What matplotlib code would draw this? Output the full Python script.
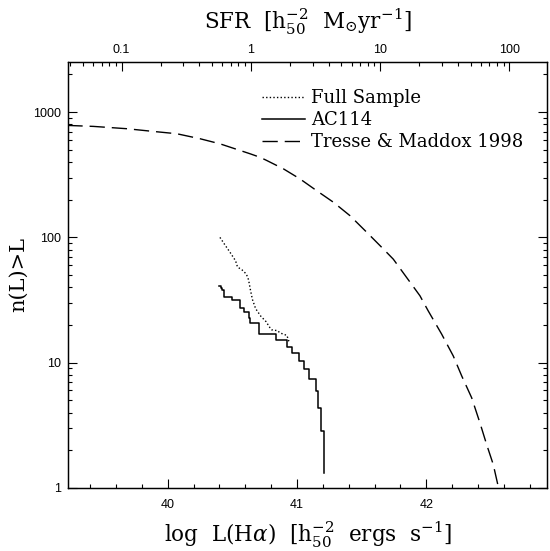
import numpy as np
import matplotlib.pyplot as plt
from matplotlib.ticker import MultipleLocator, LogLocator, FuncFormatter, NullFormatter

plt.rcParams['font.family'] = 'DejaVu Serif'
plt.rcParams['mathtext.fontset'] = 'dejavuserif'

# log L(Halpha) where SFR = 1 h50^-2 Msun/yr
sfr_zero = 40.6435

# Tresse & Maddox 1998 (cumulative)
tm_logL = [39.224, 39.425, 39.683, 39.889, 40.070, 40.250, 40.405, 40.560, 40.637,
           40.714, 40.766, 40.894, 41.023, 41.152, 41.281, 41.410, 41.539, 41.667,
           41.745, 41.951, 42.015, 42.119, 42.209, 42.274, 42.351, 42.415, 42.467,
           42.518, 42.562]
tm_n = [783, 769, 737, 701, 672, 613, 558, 494, 465, 436, 411, 353, 293, 236, 191,
        149, 110, 81, 67, 34.2, 25.9, 16.9, 11.3, 7.84, 5.25, 3.31, 2.22, 1.54, 0.97]

# full sample (dotted)
fs_logL = [40.404, 40.443, 40.482, 40.525, 40.540, 40.575, 40.608, 40.625, 40.640,
           40.655, 40.680, 40.720, 40.760, 40.791, 40.804, 40.850, 40.868, 40.894,
           40.922, 40.935, 40.950]
fs_n = [100, 87, 76, 65, 58, 55, 51, 46, 38, 32, 27, 23.5, 21.3, 19, 18.3, 18, 17.3,
        16.9, 16.5, 15, 14.5]

# AC114 (solid steps)
ac_logL = [40.397, 40.410, 40.422, 40.432, 40.436, 40.500, 40.559, 40.590, 40.625,
           40.640, 40.708, 40.838, 40.920, 40.959, 41.015, 41.056, 41.095, 41.145,
           41.165, 41.186, 41.211]
ac_n = [41.0, 39.8, 38.2, 37.0, 33.6, 31.7, 27.2, 25.3, 22.9, 20.9, 16.9, 15.1, 13.4,
        11.9, 10.3, 8.95, 7.4, 5.94, 4.37, 2.84, 1.32]

xlo, xhi = 39.232, 42.934
ylo, yhi = 1, 2512

fig = plt.figure(figsize=(5.5, 5.51), dpi=100)
ax = fig.add_axes([0.1244, 0.1144, 0.8702, 0.7731])

ax.plot(fs_logL, fs_n, color='k', lw=1.0, linestyle=(0, (1, 1.6)), label='Full Sample')
ax.step(ac_logL, ac_n, where='post', color='k', lw=1.1, label='AC114')
ax.plot(tm_logL, tm_n, color='k', lw=1.0, linestyle=(0, (11, 5)), label='Tresse & Maddox 1998')

ax.set_yscale('log')
ax.set_xlim(xlo, xhi)
ax.set_ylim(ylo, yhi)

ax.xaxis.set_major_locator(MultipleLocator(1))
ax.xaxis.set_minor_locator(MultipleLocator(0.2))
ax.yaxis.set_major_locator(LogLocator(base=10))
ax.yaxis.set_minor_locator(LogLocator(base=10, subs=np.arange(2, 10)))
ax.yaxis.set_major_formatter(FuncFormatter(lambda v, p: '%d' % v))
ax.yaxis.set_minor_formatter(NullFormatter())

ax.tick_params(which='both', direction='in', top=False, right=True, width=0.8)
ax.tick_params(which='major', length=6.5)
ax.tick_params(which='minor', length=3.2)
ax.tick_params(axis='x', which='major', pad=8)
ax.tick_params(axis='y', which='major', pad=5)
for lab in ax.get_xticklabels() + ax.get_yticklabels():
    lab.set_fontfamily('Liberation Sans')
    lab.set_fontsize(9)

# SFR axis on top
ax2 = ax.twiny()
ax2.set_xscale('log')
ax2.set_xlim(10 ** (xlo - sfr_zero), 10 ** (xhi - sfr_zero))
ax2.xaxis.set_major_locator(LogLocator(base=10))
ax2.xaxis.set_minor_locator(LogLocator(base=10, subs=np.arange(2, 10)))
ax2.xaxis.set_major_formatter(FuncFormatter(lambda v, p: '%g' % v))
ax2.xaxis.set_minor_formatter(NullFormatter())
ax2.tick_params(which='both', direction='in', width=0.8)
ax2.tick_params(which='major', length=6.5, pad=4)
ax2.tick_params(which='minor', length=3.2)
for lab in ax2.get_xticklabels():
    lab.set_fontfamily('Liberation Sans')
    lab.set_fontsize(9)

for a in (ax, ax2):
    for s in a.spines.values():
        s.set_linewidth(0.9)

ax.set_xlabel(r'log  L(H$\alpha$)  [$\mathrm{h}_{50}^{-2}$  ergs  s$^{-1}$]', fontsize=15.5, labelpad=6)
ax.set_ylabel('n(L)>L', fontsize=15, labelpad=4)
ax2.set_xlabel(r'SFR  [$\mathrm{h}_{50}^{-2}$  M$_{\odot}$yr$^{-1}$]', fontsize=15.5, labelpad=11)

ax.legend(loc='upper left', bbox_to_anchor=(0.4045, 0.936), frameon=False,
          fontsize=13, handlelength=2.4, handletextpad=0.3, labelspacing=0.22,
          borderpad=0, borderaxespad=0)

fig.savefig('out.png', dpi=100)
